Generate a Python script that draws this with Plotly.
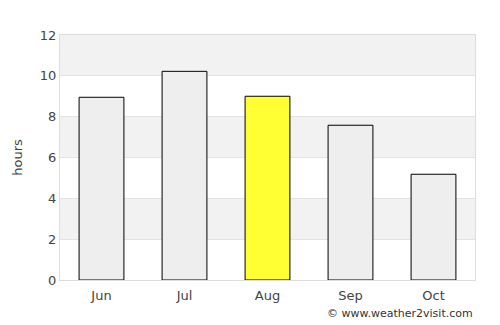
import plotly.graph_objects as go

months = ["Jun", "Jul", "Aug", "Sep", "Oct"]
hours = [8.95, 10.22, 9.0, 7.58, 5.18]
colors = ["#eeeeee", "#eeeeee", "#ffff33", "#eeeeee", "#eeeeee"]
y_ticks = [0, 2, 4, 6, 8, 10, 12]

fig = go.Figure()
fig.add_trace(go.Bar(x=months, y=hours, marker=dict(color=colors, line=dict(color="#000000", width=1)),
                     width=0.54, hoverinfo="skip"))

# alternating bands
for lo in [2, 6, 10]:
    fig.add_shape(type="rect", xref="paper", yref="y", x0=0, x1=1, y0=lo, y1=lo + 2,
                  fillcolor="#f2f2f2", line=dict(width=0), layer="below")

fig.update_layout(
    width=500, height=325,
    margin=dict(l=60, r=25, t=35, b=45),
    paper_bgcolor="white", plot_bgcolor="white",
    font=dict(family="DejaVu Sans", size=13, color="#444444"),
    showlegend=False,
    bargap=0.46,
    xaxis=dict(showgrid=False, showline=True, linecolor="#dddddd", mirror=True, ticks="outside",
               ticklen=3, tickcolor="rgba(0,0,0,0)",
               tickfont=dict(size=13), range=[-0.5, 4.5]),
    yaxis=dict(range=[0, 12], tickvals=y_ticks, showgrid=True, gridcolor="#e3e3e3",
               showline=True, linecolor="#dddddd", mirror=True, zeroline=False, ticks="",
               title=dict(text="hours", font=dict(size=13), standoff=14), tickfont=dict(size=13)),
    annotations=[dict(text="© www.weather2visit.com", xref="paper", yref="paper", x=1.0, y=-0.135,
                      xanchor="right", yanchor="middle", showarrow=False, font=dict(size=11, color="#333333"))],
)
fig.write_html("out.html")
